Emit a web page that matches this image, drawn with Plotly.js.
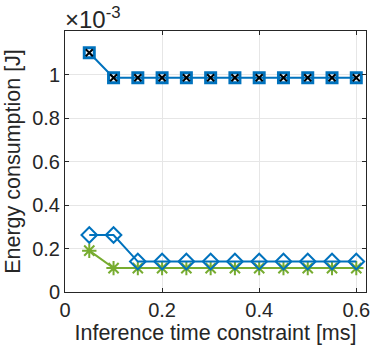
<!DOCTYPE html>
<html>
<head>
<meta charset="utf-8">
<script src="https://cdn.plot.ly/plotly-3.0.1.min.js"></script>
<style>
  html, body { margin: 0; padding: 0; background: #fff; }
  #grafico { width: 374px; height: 349px; }
</style>
</head>
<body>
<div id="grafico"></div>
<script>
// Inference time constraint [ms]
const tempo = [0.05, 0.1, 0.15, 0.2, 0.25, 0.3, 0.35, 0.4, 0.45, 0.5, 0.55, 0.6];

// Energy consumption, in units of 1e-3 J
const energiaQuadrado = [1.1, 0.985, 0.985, 0.985, 0.985, 0.985, 0.985, 0.985, 0.985, 0.985, 0.985, 0.985];
const energiaX = [1.1, 0.985, 0.985, 0.985, 0.985, 0.985, 0.985, 0.985, 0.985, 0.985, 0.985, 0.985];
const energiaLosango = [0.262, 0.262, 0.14, 0.14, 0.14, 0.14, 0.14, 0.14, 0.14, 0.14, 0.14, 0.14];
const energiaAsterisco = [0.19, 0.11, 0.11, 0.11, 0.11, 0.11, 0.11, 0.11, 0.11, 0.11, 0.11, 0.11];

const xTicks = [0, 0.2, 0.4, 0.6];
const yTicks = [0, 0.2, 0.4, 0.6, 0.8, 1];

const azul = '#0072BD';
const verde = '#77AC30';

const serieAsterisco = {
  type: 'scatter',
  mode: 'lines+markers',
  x: tempo,
  y: energiaAsterisco,
  line: { color: verde, width: 2 },
  marker: { symbol: 'asterisk-open', size: 12, color: verde, line: { color: verde, width: 2 } }
};

const serieLosango = {
  type: 'scatter',
  mode: 'lines+markers',
  x: tempo,
  y: energiaLosango,
  line: { color: azul, width: 2 },
  marker: { symbol: 'diamond-open', size: 12, color: azul, line: { color: azul, width: 2 } }
};

const serieQuadrado = {
  type: 'scatter',
  mode: 'lines+markers',
  x: tempo,
  y: energiaQuadrado,
  line: { color: azul, width: 2 },
  marker: { symbol: 'square-open', size: 10, color: azul, line: { color: azul, width: 3 } }
};

const serieX = {
  type: 'scatter',
  mode: 'markers',
  x: tempo,
  y: energiaX,
  marker: { symbol: 'x-thin-open', size: 7, color: '#000', line: { color: '#000', width: 2 } }
};

const fonte = { family: 'Liberation Sans', size: 20, color: '#262626' };
const fonteTitulo = { family: 'Liberation Sans', size: 21.5, color: '#262626' };
const fonteExpoente = { family: 'Liberation Sans', size: 24, color: '#262626' };

const layout = {
  width: 374,
  height: 349,
  margin: { l: 65, r: 8, t: 31, b: 57 },
  paper_bgcolor: '#fff',
  plot_bgcolor: '#fff',
  showlegend: false,
  font: fonte,
  xaxis: {
    range: [0, 0.62],
    tickvals: xTicks,
    ticktext: xTicks.map(String),
    ticks: 'inside',
    ticklen: 4,
    tickcolor: '#262626',
    showline: true,
    linecolor: '#262626',
    linewidth: 1,
    mirror: 'ticks',
    showgrid: true,
    gridcolor: '#e6e6e6',
    zeroline: false,
    tickfont: fonte,
    title: { text: 'Inference time constraint [ms]', font: fonteTitulo, standoff: 2 }
  },
  yaxis: {
    range: [0, 1.2],
    tickvals: yTicks,
    ticktext: yTicks.map(String),
    ticks: 'inside',
    ticklen: 4,
    tickcolor: '#262626',
    showline: true,
    linecolor: '#262626',
    linewidth: 1,
    mirror: 'ticks',
    showgrid: true,
    gridcolor: '#e6e6e6',
    zeroline: false,
    tickfont: fonte,
    title: { text: 'Energy consumption [J]', font: fonteTitulo, standoff: 5 }
  },
  annotations: [{
    xref: 'paper', yref: 'paper',
    x: 0, y: 1,
    xanchor: 'left', yanchor: 'bottom',
    xshift: -2,
    yshift: -4,
    showarrow: false,
    text: '×10<sup>-3</sup>',
    font: fonteExpoente
  }]
};

Plotly.newPlot('grafico', [serieAsterisco, serieLosango, serieQuadrado, serieX], layout, { displayModeBar: false, staticPlot: true });
</script>
</body>
</html>
